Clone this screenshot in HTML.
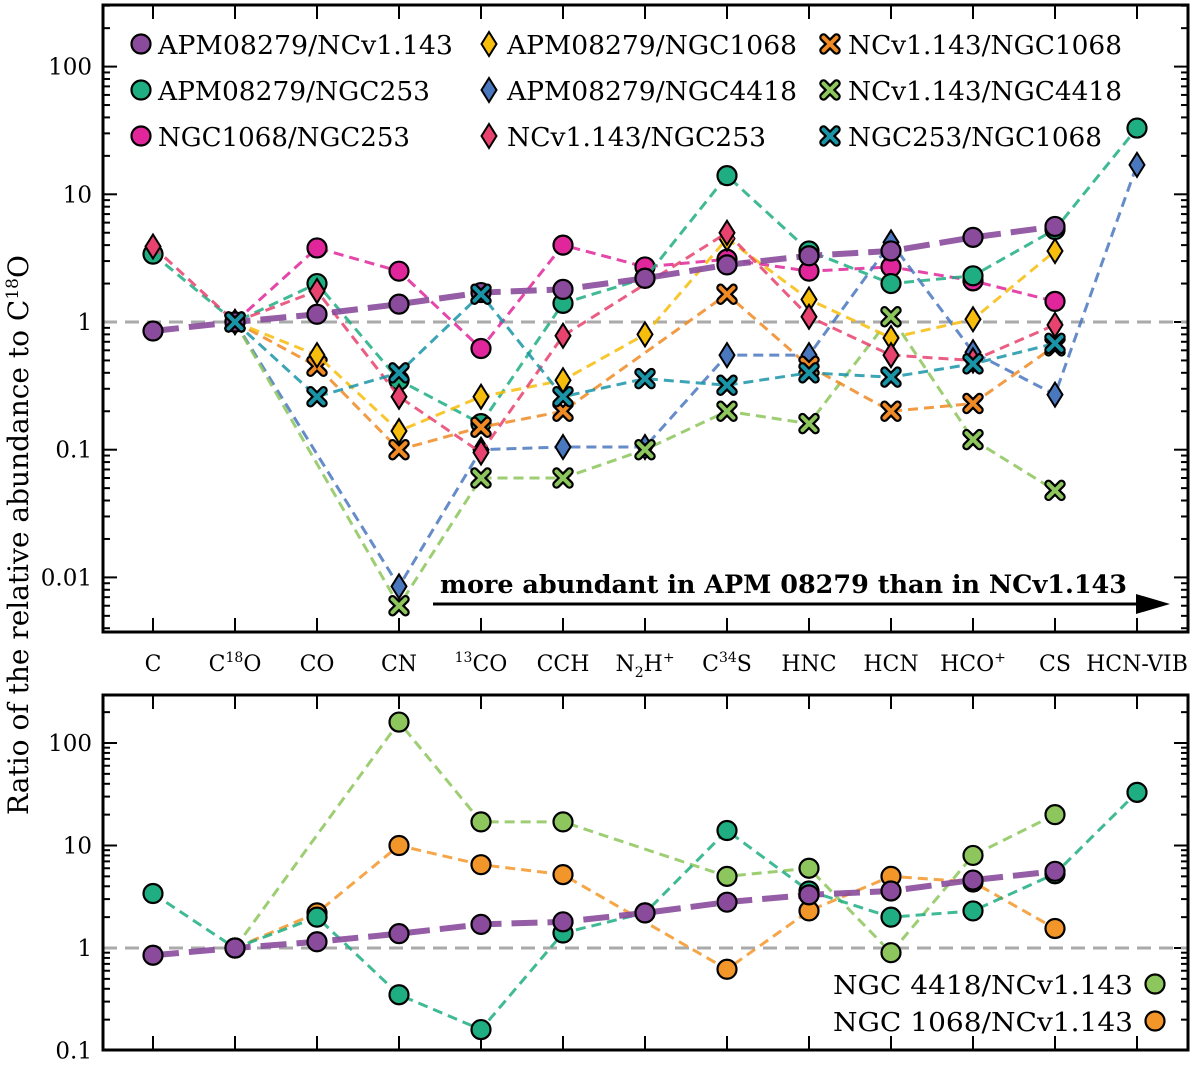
<!DOCTYPE html>
<html><head><meta charset="utf-8"><style>
body{margin:0;background:#fff}
svg text{font-family:"DejaVu Serif","Liberation Serif",serif;fill:#000}
</style></head><body>
<svg id="chart" width="1200" height="1066" xmlns="http://www.w3.org/2000/svg"></svg>
<script>
const categories=["C","C18O","CO","CN","13CO","CCH","N2H+","C34S","HNC","HCN","HCO+","CS","HCN-VIB"];
const yTicksTop=[100,10,1,0.1,0.01];
const yTickLabelsTop=["100","10","1","0.1","0.01"];
const yTicksBot=[100,10,1,0.1];
const yTickLabelsBot=["100","10","1","0.1"];
const apmNcv=[0.85,1,1.15,1.38,1.7,1.8,2.2,2.8,3.3,3.6,4.6,5.6,null];
const apmN253=[3.4,1,2.0,0.35,0.16,1.4,2.2,14,3.6,2.0,2.3,5.3,33];
const n1068N253=[null,1,3.8,2.5,0.62,4.0,2.7,3.1,2.5,2.7,2.1,1.45,null];
const apmN1068=[null,1,0.55,0.14,0.26,0.35,0.8,4.5,1.5,0.75,1.05,3.6,null];
const apmN4418=[null,1,null,0.0085,0.1,0.105,0.105,0.55,0.55,4.2,0.58,0.27,17];
const ncvN253=[3.9,1,1.75,0.26,0.095,0.78,null,5.0,1.1,0.55,0.5,0.95,null];
const ncvN1068=[null,1,0.45,0.1,0.15,0.2,null,1.65,0.45,0.2,0.23,0.65,null];
const ncvN4418=[null,1,null,0.006,0.06,0.06,0.1,0.2,0.16,1.1,0.12,0.048,null];
const n253N1068=[null,1,0.26,0.4,1.65,0.26,0.36,0.32,0.4,0.37,0.47,0.68,null];
const n4418Ncv=[null,1,null,160,17,17,null,5,6,0.9,8,20,null];
const n1068Ncv=[null,1,2.2,10,6.5,5.2,null,0.62,2.3,5,4.4,1.55,null];

const NS="http://www.w3.org/2000/svg";
const svg=document.getElementById('chart');
function mk(t,a,p){const e=document.createElementNS(NS,t);for(const k in a)e.setAttribute(k,a[k]);(p||svg).appendChild(e);return e;}
const X0=103,X1=1188;
const xs=i=>153+i*82;
const topP={y0:5,y1:632,y1v:322,per:127.7,lo:-3};
const botP={y0:695,y1:1050,y1v:948,per:102.5,lo:-1};
const yTop=v=>topP.y1v-Math.log10(v)*topP.per;
const yBot=v=>botP.y1v-Math.log10(v)*botP.per;

function axes(P,ys,ticks,labels,name){
  const g=mk('g',{});
  for(let d=P.lo;d<3;d++)for(let m=1;m<10;m++){const v=m*Math.pow(10,d);const y=ys(v);if(y<P.y0||y>P.y1)continue;const L=m==1?14:7;
    mk('line',{x1:X0,x2:X0+L,y1:y,y2:y,stroke:'#000','stroke-width':2},g);mk('line',{x1:X1,x2:X1-L,y1:y,y2:y,stroke:'#000','stroke-width':2},g);}
  ticks.forEach((v,i)=>{const t=mk('text',{x:92,y:ys(v)+8,'text-anchor':'end','font-size':23},g);t.textContent=labels[i];});
  categories.forEach((c,i)=>{mk('line',{x1:xs(i),x2:xs(i),y1:P.y0,y2:P.y0+14,stroke:'#000','stroke-width':2},g);mk('line',{x1:xs(i),x2:xs(i),y1:P.y1,y2:P.y1-14,stroke:'#000','stroke-width':2},g);});
  mk('line',{x1:X0,x2:X1,y1:ys(1),y2:ys(1),stroke:'#aaa','stroke-width':3,'stroke-dasharray':'14,8'},g);
}
axes(topP,yTop,yTicksTop,yTickLabelsTop,'top-axes');
axes(botP,yBot,yTicksBot,yTickLabelsBot,'bottom-axes');

function marker(type,x,y,col,g){
  if(type==='o')mk('circle',{cx:x,cy:y,r:9.5,fill:col,stroke:'#000','stroke-width':2.2},g);
  else if(type==='d')mk('path',{d:`M${x} ${y-12}L${x+7.5} ${y}L${x} ${y+12}L${x-7.5} ${y}Z`,fill:col,stroke:'#000','stroke-width':2},g);
  else{const s=6.5;const d=`M${x-s} ${y-s}L${x+s} ${y+s}M${x+s} ${y-s}L${x-s} ${y+s}`;mk('path',{d:d,stroke:'#000','stroke-width':8.5,'stroke-linecap':'round'},g);mk('path',{d:d,stroke:col,'stroke-width':4,'stroke-linecap':'round'},g);}
}
function series(vals,ys,col,type,name,thick){
  const g=mk('g',{});
  const pts=[];vals.forEach((v,i)=>{if(v!=null)pts.push([xs(i),ys(v)]);});
  mk('polyline',{points:pts.map(p=>p.join(',')).join(' '),fill:'none',stroke:col,'stroke-width':thick?6:3,'stroke-dasharray':thick?'26,10':'10,6','stroke-opacity':thick?0.9:0.85},g);
  return ()=>pts.forEach(p=>marker(type,p[0],p[1],col,g));
}
const C={pur:'#8a4b9c',grn:'#1fae82',pnk:'#e0269a',yel:'#f7bd0c',blu:'#4a78bf',red:'#e8426e',org:'#f08a24',lgr:'#8dc65c',tea:'#1a95a8'};
const cbs=[
 series(n1068N253,yTop,C.pnk,'o','series-ngc1068-ngc253'),
 series(apmN253,yTop,C.grn,'o','series-apm-ngc253'),
 series(apmN4418,yTop,C.blu,'d','series-apm-ngc4418'),
 series(ncvN4418,yTop,C.lgr,'x','series-ncv-ngc4418'),
 series(ncvN1068,yTop,C.org,'x','series-ncv-ngc1068'),
 series(apmN1068,yTop,C.yel,'d','series-apm-ngc1068'),
 series(ncvN253,yTop,C.red,'d','series-ncv-ngc253'),
 series(apmNcv,yTop,C.pur,'o','series-apm-ncv',true),
 series(n253N1068,yTop,C.tea,'x','series-ngc253-ngc1068'),
 series(n4418Ncv,yBot,C.lgr,'o','series-ngc4418-ncv-bottom'),
 series(n1068Ncv,yBot,'#f39629','o','series-ngc1068-ncv-bottom'),
 series(apmN253,yBot,C.grn,'o','series-apm-ngc253-bottom'),
 series(apmNcv,yBot,C.pur,'o','series-apm-ncv-bottom',true)];
cbs.forEach(f=>f());

[[topP.y0,topP.y1],[botP.y0,botP.y1]].forEach((r,i)=>{const b=mk('rect',{x:X0,y:r[0],width:X1-X0,height:r[1]-r[0],fill:'none',stroke:'#000','stroke-width':3});});

const catHTML=['C','C<tspan dy="-9" font-size="14">18</tspan><tspan dy="9">O</tspan>','CO','CN','<tspan dy="-9" font-size="14">13</tspan><tspan dy="9">CO</tspan>','CCH','N<tspan dy="6" font-size="14">2</tspan><tspan dy="-6">H</tspan><tspan dy="-9" font-size="14">+</tspan>','C<tspan dy="-9" font-size="14">34</tspan><tspan dy="9">S</tspan>','HNC','HCN','HCO<tspan dy="-9" font-size="14">+</tspan>','CS','HCN-VIB'];
catHTML.forEach((h,i)=>{const t=mk('text',{x:xs(i),y:671,'text-anchor':'middle','font-size':22});t.innerHTML=h;});

const leg=[["APM08279/NCv1.143",C.pur,'o',295],["APM08279/NGC253",C.grn,'o',272],["NGC1068/NGC253",C.pnk,'o',252],
["APM08279/NGC1068",C.yel,'d',290],["APM08279/NGC4418",C.blu,'d',290],["NCv1.143/NGC253",C.red,'d',259],
["NCv1.143/NGC1068",C.org,'x',274],["NCv1.143/NGC4418",C.lgr,'x',274],["NGC253/NGC1068",C.tea,'x',254]];
const lx=[141,489,830],lt=[158,507,848],ly=[44,90,136];
leg.forEach((l,i)=>{const c=Math.floor(i/3),r=i%3;const g=mk('g',{});
 marker(l[2],lx[c],ly[r],l[1],g);const t=mk('text',{x:lt[c],y:ly[r]+10,'font-size':26,textLength:l[3],lengthAdjust:'spacingAndGlyphs'},g);t.textContent=l[0];});
const lg2=[["NGC 4418/NCv1.143",C.lgr,984],["NGC 1068/NCv1.143",'#f39629',1021]];
lg2.forEach(l=>{const g=mk('g',{});
 const t=mk('text',{x:833,y:l[2]+10,'font-size':26,textLength:300,lengthAdjust:'spacingAndGlyphs'},g);t.textContent=l[0];marker('o',1155,l[2],l[1],g);});

const ag=mk('g',{});
mk('line',{x1:433,x2:1140,y1:604,y2:604,stroke:'#000','stroke-width':3},ag);
mk('path',{d:'M1170 604L1136 594L1136 614Z',fill:'#000'},ag);
const at=mk('text',{x:440,y:593,'font-size':25,'font-weight':'bold',textLength:687,lengthAdjust:'spacingAndGlyphs'},ag);at.textContent='more abundant in APM 08279 than in NCv1.143';

const yt=mk('text',{x:0,y:0,'font-size':28,'text-anchor':'middle',transform:'translate(28,535) rotate(-90)'});
yt.innerHTML='Ratio of the relative abundance to C<tspan dy="-10" font-size="17">18</tspan><tspan dy="10">O</tspan>';

</script>
</body></html>
